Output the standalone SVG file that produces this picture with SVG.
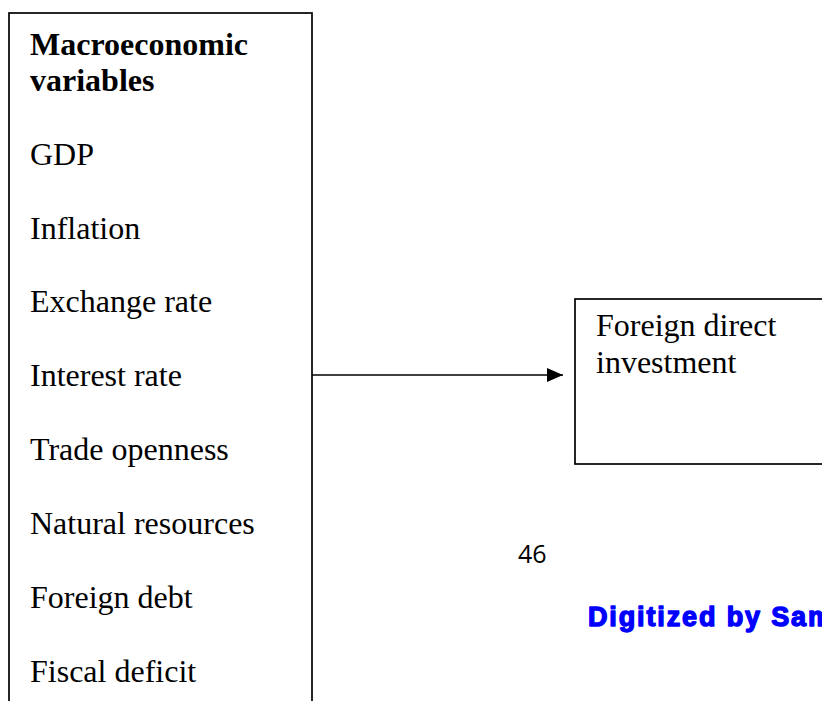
<svg xmlns="http://www.w3.org/2000/svg" width="822" height="701" viewBox="0 0 822 701">
<style>
.box{fill:#fff;stroke:#000;stroke-width:1.7}
.t{font-family:"Liberation Serif","Times New Roman",serif;font-size:32px;fill:#000}
.b{font-weight:bold}
.conn{stroke:#000;stroke-width:1.7;fill:none}
.pg{font-family:"Open Sans","Liberation Sans",sans-serif;font-size:25px;fill:#000}
.dig{font-family:"Liberation Sans",Arial,sans-serif;font-weight:bold;font-size:27px;fill:#0000ff;stroke:#0000ff;stroke-width:1.4;stroke-linejoin:round}
</style>
<defs>
<marker id="ah" markerWidth="16" markerHeight="14" refX="16" refY="7" orient="auto" markerUnits="userSpaceOnUse">
<path d="M0,0 L16,7 L0,14 Z" fill="#000"/>
</marker>
</defs>
<rect width="822" height="701" fill="#fff"/>
<g id="macro">
<rect class="box" x="9" y="13" width="303" height="700"/>
<text class="t b" x="30" y="55">Macroeconomic</text>
<text class="t b" x="30" y="91">variables</text>
<text class="t" x="30" y="165">GDP</text>
<text class="t" x="30" y="239">Inflation</text>
<text class="t" x="30" y="312">Exchange rate</text>
<text class="t" x="30" y="386">Interest rate</text>
<text class="t" x="30" y="460">Trade openness</text>
<text class="t" x="30" y="534">Natural resources</text>
<text class="t" x="30" y="608">Foreign debt</text>
<text class="t" x="30" y="682">Fiscal deficit</text>
</g>
<g id="fdi">
<rect class="box" x="575" y="299" width="260" height="165"/>
<text class="t" x="596" y="336">Foreign direct</text>
<text class="t" x="596" y="373">investment</text>
</g>
<g id="connectors">
<line class="conn" x1="312" y1="375" x2="563" y2="375" marker-end="url(#ah)"/>
</g>
<text class="pg" x="518" y="563">46</text>
<text class="dig" x="588" y="626" textLength="244" lengthAdjust="spacing">Digitized by Sam</text>
</svg>
